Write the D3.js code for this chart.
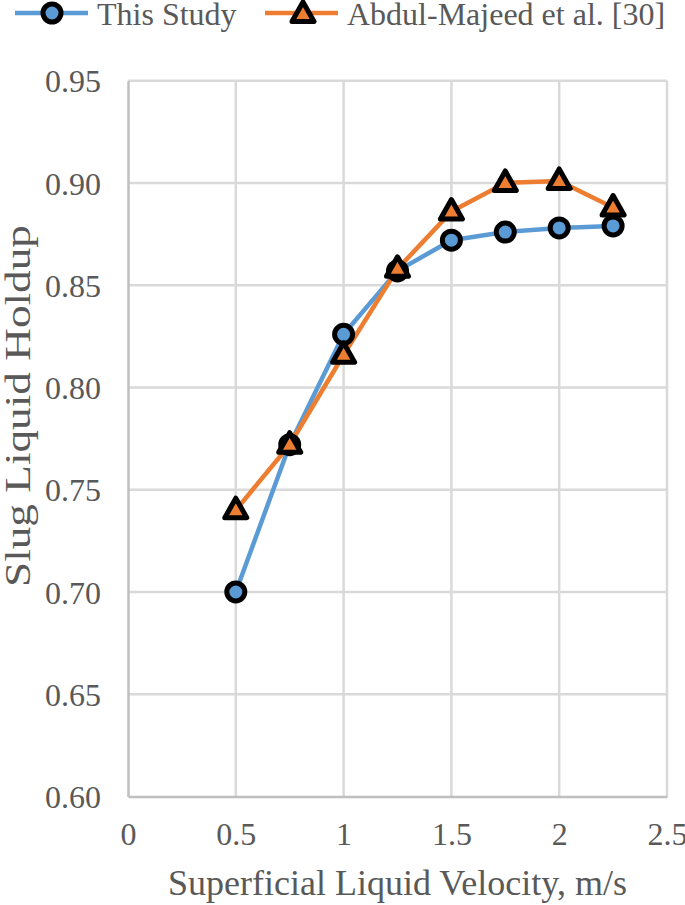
<!DOCTYPE html>
<html><head><meta charset="utf-8">
<script src="https://cdn.jsdelivr.net/npm/d3@7"></script>
<style>
html,body{margin:0;padding:0;background:#fff;}
svg text{font-family:"Liberation Serif","Times New Roman",serif;fill:#595959;}
</style></head>
<body><svg id="chart" width="685" height="905"></svg>
<script>
const velocity = [0.5, 0.75, 1, 1.25, 1.5, 1.75, 2, 2.25];
const thisStudy = [0.700, 0.772, 0.826, 0.857, 0.872, 0.876, 0.878, 0.879];
const abdulMajeed = [0.740, 0.772, 0.816, 0.858, 0.886, 0.900, 0.901, 0.888];
const xTicks = [0, 0.5, 1, 1.5, 2, 2.5];
const yTicks = [0.60, 0.65, 0.70, 0.75, 0.80, 0.85, 0.90, 0.95];
const seriesNames = ["This Study", "Abdul-Majeed et al. [30]"];
const colors = ["#5B9BD5", "#ED7D31"];

const svg = d3.select("#chart");
const x = d3.scaleLinear().domain([0, 2.5]).range([128, 667]);
const y = d3.scaleLinear().domain([0.60, 0.95]).range([796.5, 80.7]);

// gridlines
svg.append("g").selectAll("line").data(yTicks.slice(1)).join("line")
  .attr("x1", x(0)).attr("x2", x(2.5)).attr("y1", d => y(d)).attr("y2", d => y(d))
  .attr("stroke", "#D9D9D9").attr("stroke-width", 2.5);
svg.append("g").selectAll("line").data(xTicks.slice(1)).join("line")
  .attr("x1", d => x(d)).attr("x2", d => x(d)).attr("y1", y(0.95)).attr("y2", y(0.60))
  .attr("stroke", "#D9D9D9").attr("stroke-width", 2.5);

// axes
const xAxis = d3.axisBottom(x).tickValues(xTicks).tickSize(0).tickPadding(0)
  .tickFormat(d => d3.format("")(d));
const gx = svg.append("g").attr("transform", `translate(0,${y(0.60)})`).call(xAxis);
gx.select(".domain").attr("stroke", "#BFBFBF").attr("stroke-width", 2.5);
gx.selectAll("text").attr("font-size", 32).attr("dy", null).attr("y", 48.5)
  .attr("font-family", "Liberation Serif").attr("fill", "#595959");

const yAxis = d3.axisLeft(y).tickValues(yTicks).tickSize(0).tickPadding(0)
  .tickFormat(d3.format(".2f"));
const gy = svg.append("g").attr("transform", `translate(${x(0)},0)`).call(yAxis);
gy.select(".domain").attr("stroke", "#BFBFBF").attr("stroke-width", 2.5);
gy.selectAll("text").attr("font-size", 32).attr("x", -27).attr("dy", "0.35em")
  .attr("font-family", "Liberation Serif").attr("fill", "#595959");

// axis titles
svg.append("text").attr("x", 397.5).attr("y", 895).attr("text-anchor", "middle")
  .attr("font-size", 36).text("Superficial Liquid Velocity, m/s");
svg.append("text").attr("transform", "translate(30,406) rotate(-90)")
  .attr("text-anchor", "middle").attr("font-size", 36)
  .attr("textLength", 362).attr("lengthAdjust", "spacingAndGlyphs")
  .text("Slug Liquid Holdup");

// lines
const datasets = [thisStudy, abdulMajeed];
const line = d3.line().x((d, i) => x(velocity[i])).y(d => y(d));
datasets.forEach((ds, k) => {
  svg.append("path").datum(ds).attr("d", line).attr("fill", "none")
    .attr("stroke", colors[k]).attr("stroke-width", 4.5).attr("stroke-linejoin", "round");
});

const triPath = "M0,-12 L11,7.5 L-11,7.5 Z";
function circleMarker(g, cx, cy) {
  g.append("circle").attr("cx", cx).attr("cy", cy).attr("r", 9)
    .attr("fill", colors[0]).attr("stroke", "#000").attr("stroke-width", 5);
}
function triMarker(g, cx, cy) {
  g.append("path").attr("d", triPath).attr("transform", `translate(${cx},${cy})`)
    .attr("fill", colors[1]).attr("stroke", "#000").attr("stroke-width", 5)
    .attr("stroke-linejoin", "round");
}
const mg = svg.append("g");
thisStudy.forEach((v, i) => circleMarker(mg, x(velocity[i]), y(v)));
abdulMajeed.forEach((v, i) => triMarker(mg, x(velocity[i]), y(v)));

// legend
const lg = svg.append("g");
lg.append("line").attr("x1", 15).attr("x2", 88).attr("y1", 13).attr("y2", 13)
  .attr("stroke", colors[0]).attr("stroke-width", 4.5);
circleMarker(lg, 52, 13);
lg.append("text").attr("x", 97).attr("y", 25).attr("font-size", 32).text(seriesNames[0]);
lg.append("line").attr("x1", 265).attr("x2", 338).attr("y1", 13).attr("y2", 13)
  .attr("stroke", colors[1]).attr("stroke-width", 4.5);
triMarker(lg, 303, 14);
lg.append("text").attr("x", 347).attr("y", 25).attr("font-size", 32).text(seriesNames[1]);
</script></body></html>
